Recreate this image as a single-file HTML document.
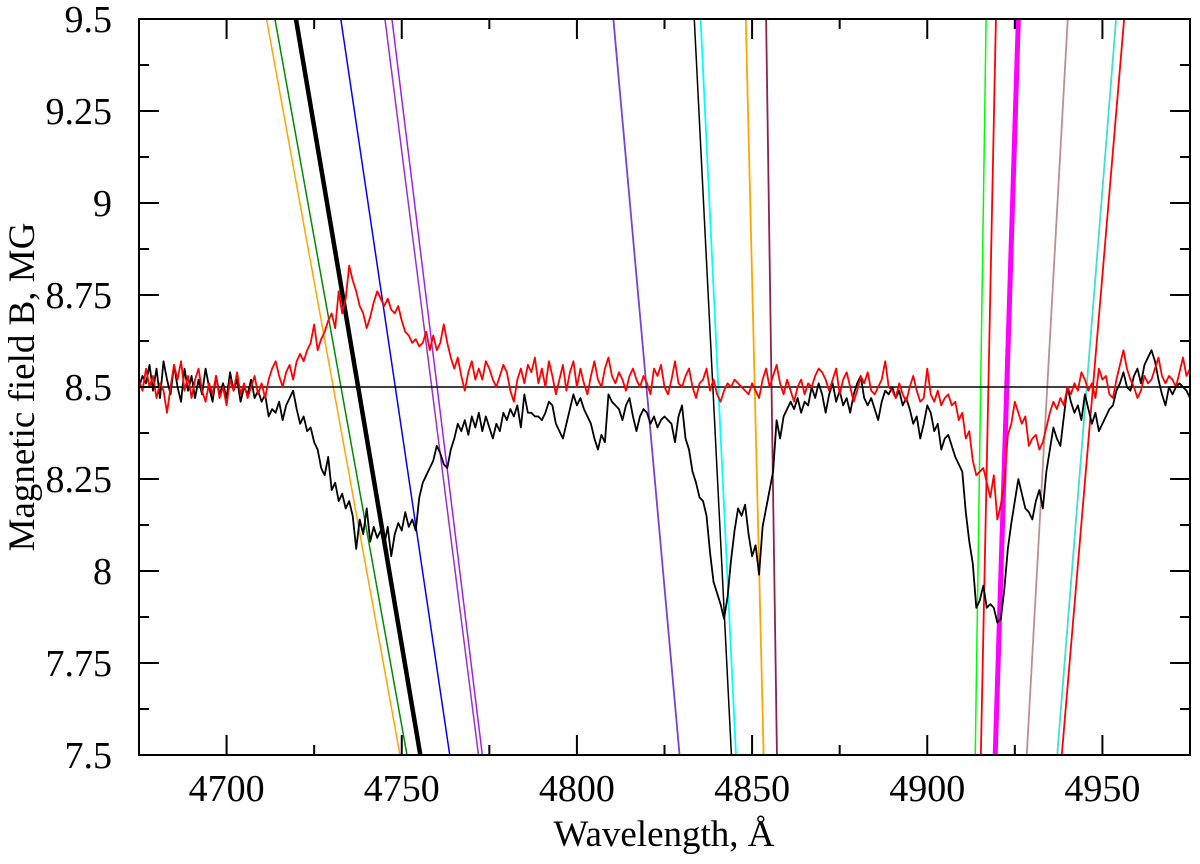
<!DOCTYPE html>
<html><head><meta charset="utf-8">
<style>
html,body{margin:0;padding:0;background:#fff;}
svg{display:block;}
svg text{font-family:"Liberation Serif","Times New Roman","DejaVu Serif",serif !important;}
</style></head>
<body>
<svg id="chart" width="1200" height="864" viewBox="0 0 1200 864" xmlns="http://www.w3.org/2000/svg">
  <defs><clipPath id="plotclip"><rect x="139" y="19" width="1051" height="736"/></clipPath></defs>
  <g id="lines" clip-path="url(#plotclip)"></g>
  <g id="axes"></g>
  <text x="664" y="846" font-size="37" text-anchor="middle">Wavelength, Å</text>
  <text x="0" y="0" font-size="37" text-anchor="middle" transform="translate(34,387) rotate(-90)">Magnetic field B, MG</text>
</svg>
<script>
const xMin = 4675, xMax = 4975, yMin = 7.5, yMax = 9.5;
const xTicksMajor = [4700, 4750, 4800, 4850, 4900, 4950];
const xTicksMinor = [4725, 4775, 4825, 4875, 4925];
const yTicksMajor = [7.5, 7.75, 8, 8.25, 8.5, 8.75, 9, 9.25, 9.5];
const yTickLabels = ["7.5", "7.75", "8", "8.25", "8.5", "8.75", "9", "9.25", "9.5"];
const yTicksMinor = [7.625, 7.875, 8.125, 8.375, 8.625, 8.875, 9.125, 9.375];
const refLevel = 8.5;
const specStart = 4675;
const specStep = 1;
const blackSpec = [8.50,8.53,8.51,8.56,8.49,8.55,8.47,8.57,8.52,8.48,8.56,8.50,8.46,8.55,8.49,8.53,8.47,8.52,8.48,8.55,8.50,8.46,8.53,8.48,8.51,8.47,8.54,8.49,8.52,8.46,8.50,8.48,8.52,8.47,8.49,8.46,8.48,8.42,8.44,8.43,8.46,8.41,8.45,8.47,8.49,8.44,8.40,8.42,8.38,8.39,8.35,8.33,8.28,8.26,8.31,8.22,8.24,8.19,8.21,8.17,8.19,8.15,8.06,8.14,8.10,8.17,8.08,8.12,8.09,8.11,8.07,8.12,8.04,8.10,8.13,8.11,8.16,8.12,8.14,8.11,8.20,8.24,8.26,8.28,8.30,8.34,8.32,8.29,8.28,8.33,8.36,8.40,8.38,8.41,8.37,8.42,8.39,8.43,8.38,8.42,8.39,8.36,8.40,8.38,8.43,8.41,8.44,8.42,8.45,8.39,8.48,8.43,8.43,8.42,8.42,8.41,8.43,8.46,8.45,8.40,8.38,8.36,8.40,8.44,8.48,8.45,8.47,8.44,8.42,8.40,8.36,8.33,8.37,8.35,8.48,8.46,8.45,8.44,8.41,8.45,8.47,8.42,8.38,8.42,8.44,8.43,8.40,8.42,8.39,8.41,8.42,8.41,8.40,8.35,8.42,8.45,8.36,8.33,8.27,8.24,8.20,8.19,8.15,8.05,7.97,7.94,7.91,7.87,7.93,8.03,8.11,8.17,8.15,8.18,8.10,8.04,8.07,7.99,8.12,8.17,8.22,8.27,8.41,8.36,8.42,8.44,8.46,8.44,8.47,8.43,8.46,8.45,8.50,8.47,8.51,8.48,8.43,8.48,8.51,8.46,8.49,8.45,8.47,8.43,8.48,8.51,8.53,8.47,8.45,8.47,8.44,8.41,8.46,8.49,8.48,8.50,8.47,8.49,8.45,8.47,8.44,8.40,8.42,8.36,8.40,8.45,8.43,8.38,8.40,8.33,8.36,8.37,8.34,8.31,8.29,8.27,8.16,8.08,8.02,7.90,7.92,7.96,7.90,7.91,7.90,7.86,7.87,7.95,8.06,8.13,8.19,8.25,8.21,8.17,8.16,8.14,8.19,8.22,8.17,8.27,8.33,8.39,8.36,8.34,8.42,8.50,8.46,8.43,8.45,8.41,8.48,8.44,8.40,8.43,8.38,8.40,8.42,8.44,8.45,8.49,8.51,8.54,8.50,8.49,8.53,8.55,8.51,8.56,8.58,8.60,8.57,8.52,8.48,8.45,8.50,8.48,8.50,8.51,8.50,8.49,8.47];
const redSpec = [8.52,8.49,8.55,8.50,8.53,8.47,8.51,8.49,8.43,8.50,8.56,8.52,8.57,8.49,8.53,8.47,8.52,8.55,8.49,8.46,8.51,8.48,8.53,8.47,8.50,8.45,8.52,8.49,8.54,8.48,8.51,8.47,8.50,8.53,8.48,8.51,8.47,8.52,8.55,8.57,8.53,8.50,8.54,8.56,8.52,8.57,8.59,8.57,8.60,8.62,8.67,8.60,8.63,8.65,8.68,8.70,8.66,8.76,8.70,8.74,8.83,8.79,8.76,8.72,8.70,8.66,8.69,8.73,8.76,8.74,8.72,8.74,8.71,8.70,8.72,8.68,8.65,8.64,8.62,8.63,8.61,8.62,8.65,8.60,8.64,8.60,8.62,8.67,8.62,8.58,8.55,8.58,8.53,8.49,8.54,8.57,8.52,8.55,8.52,8.57,8.55,8.52,8.50,8.53,8.56,8.54,8.49,8.46,8.52,8.55,8.51,8.56,8.54,8.58,8.51,8.55,8.50,8.57,8.53,8.48,8.52,8.56,8.49,8.54,8.57,8.50,8.55,8.51,8.48,8.53,8.57,8.52,8.50,8.55,8.58,8.53,8.51,8.54,8.52,8.49,8.53,8.55,8.52,8.50,8.53,8.51,8.48,8.55,8.53,8.56,8.50,8.48,8.52,8.57,8.51,8.50,8.53,8.55,8.50,8.47,8.51,8.52,8.55,8.49,8.52,8.48,8.46,8.49,8.51,8.50,8.52,8.51,8.50,8.49,8.48,8.51,8.49,8.47,8.52,8.55,8.50,8.53,8.56,8.51,8.48,8.52,8.49,8.46,8.50,8.52,8.48,8.51,8.50,8.53,8.55,8.54,8.52,8.49,8.52,8.55,8.48,8.52,8.54,8.50,8.46,8.49,8.53,8.51,8.54,8.49,8.48,8.50,8.52,8.57,8.50,8.49,8.47,8.51,8.48,8.46,8.50,8.53,8.49,8.46,8.47,8.55,8.48,8.46,8.49,8.45,8.47,8.48,8.45,8.46,8.41,8.43,8.36,8.38,8.30,8.26,8.27,8.28,8.24,8.20,8.26,8.14,8.18,8.24,8.37,8.40,8.46,8.43,8.40,8.42,8.34,8.36,8.37,8.33,8.35,8.39,8.43,8.46,8.44,8.47,8.45,8.50,8.48,8.51,8.49,8.54,8.52,8.49,8.51,8.47,8.55,8.52,8.53,8.48,8.47,8.52,8.56,8.60,8.55,8.52,8.50,8.47,8.49,8.53,8.51,8.52,8.55,8.58,8.53,8.51,8.53,8.52,8.50,8.54,8.58,8.53,8.55];
const lineTop = [4711.4,4713.8,4719.8,4732.6,4745.2,4747.2,4810.4,4833.5,4835.3,4848.2,4854.0,4916.8,4919.6,4926.0,4940.1,4953.9,4956.2];
const lineBottom = [4749.5,4751.5,4755.3,4763.7,4771.9,4773.0,4829.3,4844.1,4845.4,4853.3,4857.1,4913.7,4915.3,4919.4,4928.4,4937.1,4938.4];
const lineColors = ["#ffa500","#008b00","#000000","#0000ff","#9932cc","#a020f0","#7b3fd4","#000000","#00ffff","#ffa500","#8b2252","#00ff00","#ff0000","#ff00ff","#bc8f8f","#40e0d0","#ff0000"];
const lineWidths = [1.5,1.5,4.5,1.5,1.5,1.5,1.8,1.5,1.8,1.8,1.8,1.5,1.8,5,1.8,1.8,1.8];

const L = 139, R = 1190, T = 19, B = 755;
const NS = "http://www.w3.org/2000/svg";
function sx(v){ return L + (v - xMin) / (xMax - xMin) * (R - L); }
function sy(v){ return B - (v - yMin) / (yMax - yMin) * (B - T); }
function mk(tag, attrs, parent){ const e = document.createElementNS(NS, tag); for (const k in attrs) e.setAttribute(k, attrs[k]); parent.appendChild(e); return e; }
const gl = document.getElementById('lines');
const ga = document.getElementById('axes');

for (let i = 0; i < lineTop.length; i++) {
  const ln = mk('line', {x1: sx(lineTop[i]), y1: sy(yMax), x2: sx(lineBottom[i]), y2: sy(yMin), stroke: lineColors[i], 'stroke-width': lineWidths[i]}, gl);
  
  
}
const ref = mk('line', {x1: L, y1: sy(refLevel), x2: R, y2: sy(refLevel), stroke: '#000', 'stroke-width': 1.5}, gl);


function spec(arr, color, name){
  let d = '';
  arr.forEach((v, i) => { d += (i ? 'L' : 'M') + sx(specStart + i * specStep).toFixed(2) + ' ' + sy(v).toFixed(2); });
  const p = mk('path', {d: d, fill: 'none', stroke: color, 'stroke-width': 1.8, 'stroke-linejoin': 'round'}, gl);
  
  
}
spec(blackSpec, '#000', 'black-spectrum');
spec(redSpec, '#ff0000', 'red-spectrum');

const frame = mk('rect', {x: L, y: T, width: R - L, height: B - T, fill: 'none', stroke: '#000', 'stroke-width': 2}, ga);


xTicksMajor.forEach(v => {
  const x = sx(v);
  mk('line', {x1: x, y1: B, x2: x, y2: B - 20, stroke: '#000', 'stroke-width': 2}, ga);
  mk('line', {x1: x, y1: T, x2: x, y2: T + 20, stroke: '#000', 'stroke-width': 2}, ga);
  const t = mk('text', {x: x, y: 801, 'font-size': 38, 'text-anchor': 'middle'}, ga);
  t.textContent = v;
  
  
});
xTicksMinor.forEach(v => {
  const x = sx(v);
  mk('line', {x1: x, y1: B, x2: x, y2: B - 10, stroke: '#000', 'stroke-width': 2}, ga);
  mk('line', {x1: x, y1: T, x2: x, y2: T + 10, stroke: '#000', 'stroke-width': 2}, ga);
});
yTicksMajor.forEach((v, i) => {
  const y = sy(v);
  mk('line', {x1: L, y1: y, x2: L + 20, y2: y, stroke: '#000', 'stroke-width': 2}, ga);
  mk('line', {x1: R, y1: y, x2: R - 20, y2: y, stroke: '#000', 'stroke-width': 2}, ga);
  const t = mk('text', {x: 112, y: y + 13, 'font-size': 38, 'text-anchor': 'end'}, ga);
  t.textContent = yTickLabels[i];
  
  
});
yTicksMinor.forEach(v => {
  const y = sy(v);
  mk('line', {x1: L, y1: y, x2: L + 10, y2: y, stroke: '#000', 'stroke-width': 2}, ga);
  mk('line', {x1: R, y1: y, x2: R - 10, y2: y, stroke: '#000', 'stroke-width': 2}, ga);
});
</script>
</body></html>
